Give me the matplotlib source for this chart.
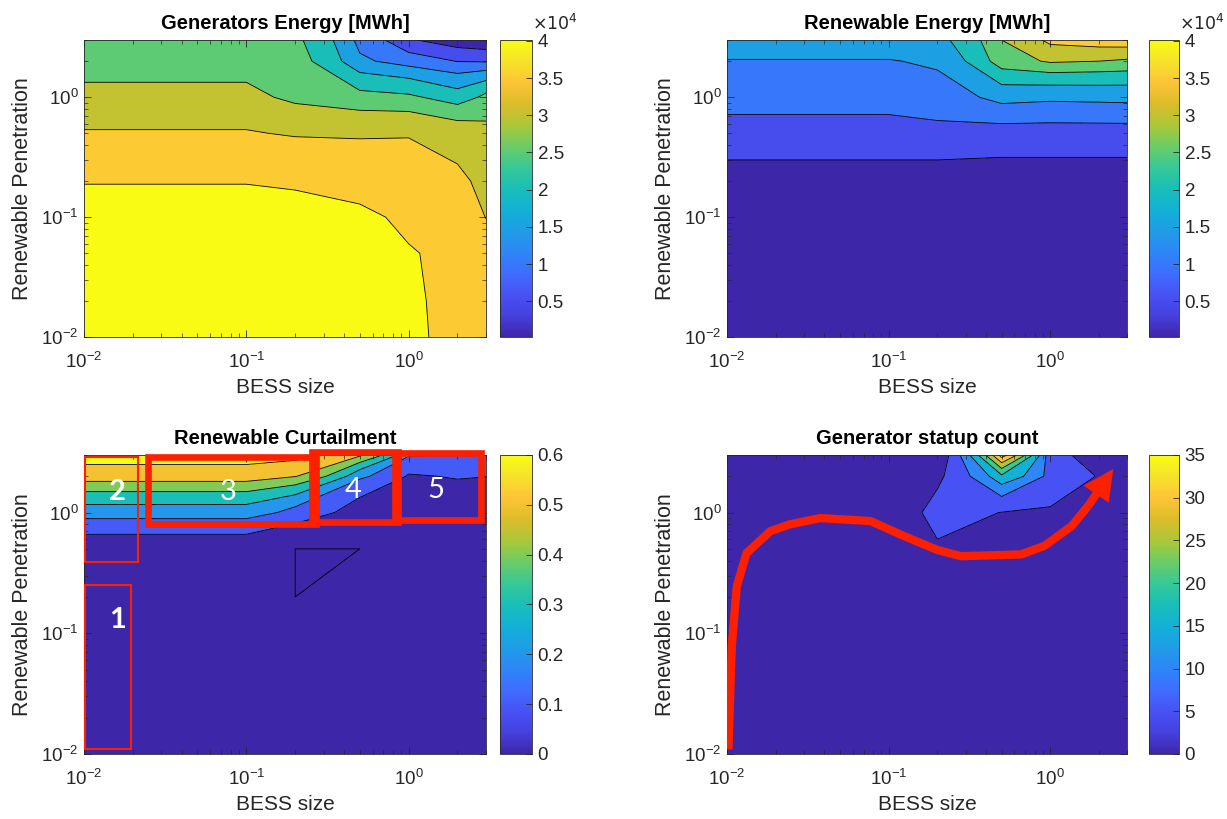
import numpy as np
import matplotlib
matplotlib.use('Agg')
import matplotlib.pyplot as plt
from matplotlib.colors import LinearSegmentedColormap, Normalize
from matplotlib.patches import Rectangle
import matplotlib.cm as cm

plt.rcParams['font.family'] = ['Liberation Sans', 'DejaVu Sans']

# grid of the parameter sweep
bess = [0.01, 0.02, 0.05, 0.1, 0.2, 0.5, 1, 2, 3]
pen = [0.01, 0.02, 0.05, 0.1, 0.2, 0.5, 1, 2, 3]

# rows = renewable penetration, columns = BESS size  (x1e4 MWh)
gen_energy = np.array([
    [4.15, 4.15, 4.15, 4.15, 4.15, 4.15, 4.05, 3.90, 3.80],
    [4.15, 4.15, 4.15, 4.15, 4.15, 4.15, 4.04, 3.90, 3.78],
    [4.15, 4.15, 4.15, 4.15, 4.15, 4.15, 4.025, 3.88, 3.65],
    [4.15, 4.15, 4.15, 4.15, 4.15, 4.08, 3.90, 3.75, 3.49],
    [3.98, 3.98, 3.98, 3.98, 3.93, 3.80, 3.75, 3.57, 3.40],
    [3.53, 3.53, 3.53, 3.53, 3.45, 3.44, 3.46, 3.30, 3.13],
    [3.12, 3.12, 3.12, 3.12, 2.87, 2.65, 2.58, 2.22, 2.64],
    [2.76, 2.76, 2.76, 2.76, 2.70, 1.58, 1.26, 0.98, 0.95],
    [2.60, 2.60, 2.60, 2.60, 2.60, 1.34, 0.55, 0.18, 0.05],
]) * 1e4

ren_energy = np.array([
    [0.05, 0.05, 0.05, 0.05, 0.05, 0.05, 0.05, 0.05, 0.05],
    [0.05, 0.05, 0.05, 0.05, 0.05, 0.05, 0.05, 0.05, 0.05],
    [0.05, 0.05, 0.05, 0.05, 0.05, 0.05, 0.05, 0.05, 0.05],
    [0.10, 0.10, 0.10, 0.10, 0.10, 0.10, 0.10, 0.10, 0.10],
    [0.30, 0.30, 0.30, 0.30, 0.30, 0.30, 0.30, 0.30, 0.30],
    [0.90, 0.90, 0.90, 0.90, 0.90, 0.82, 0.82, 0.82, 0.82],
    [1.13, 1.13, 1.13, 1.13, 1.257, 1.70, 1.62, 1.65, 1.67],
    [1.47, 1.47, 1.47, 1.47, 1.61, 2.80, 3.07, 3.00, 2.93],
    [1.90, 1.90, 1.90, 1.90, 1.85, 3.00, 3.64, 3.80, 3.85],
]) * 1e4

curtail = np.array([
    [0.002, 0.002, 0.002, 0.002, 0.002, 0.002, 0.002, 0.002, 0.002],
    [0.002, 0.002, 0.002, 0.002, 0.002, 0.002, 0.002, 0.002, 0.002],
    [0.002, 0.002, 0.002, 0.002, 0.002, 0.002, 0.002, 0.002, 0.002],
    [0.002, 0.002, 0.002, 0.002, 0.002, 0.002, 0.002, 0.002, 0.002],
    [0.002, 0.002, 0.002, 0.002, 0.0, 0.002, 0.002, 0.002, 0.002],
    [0.03, 0.03, 0.03, 0.03, 0.0, 0.0, 0.005, 0.005, 0.005],
    [0.248, 0.248, 0.248, 0.248, 0.16, 0.04, 0.01, 0.02, 0.02],
    [0.558, 0.558, 0.558, 0.558, 0.505, 0.22, 0.09, 0.11, 0.102],
    [0.642, 0.642, 0.642, 0.642, 0.64, 0.52, 0.21, 0.19, 0.19],
])

startups = np.array([
    [0, 0, 0, 0, 0, 0, 0, 0, 0],
    [0, 0, 0, 0, 0, 0, 0, 0, 0],
    [0, 0, 0, 0, 0, 0, 0, 0, 0],
    [0, 0, 0, 0, 0, 0, 0, 0, 0],
    [0, 0, 0, 0, 0, 0, 0, 0, 0],
    [0, 0, 0, 0, 4.67, 3, 2, 0, 0],
    [0, 0, 0, 3, 6.3, 4.9, 4.6, 2, 1],
    [0, 0, 0, 0, 4, 19.1, 8, 4.67, 2],
    [0, 0, 0, 0, 0.6, 37.6, 6.2, 2.8, 1],
])

energy_levels = [0, 5000, 10000, 15000, 20000, 25000, 30000, 35000, 40000]
curtail_levels = [0, 0.1, 0.2, 0.3, 0.4, 0.5, 0.6]
startup_levels = [0, 5, 10, 15, 20, 25, 30, 35]

# annotation boxes on the curtailment plot: (x0, x1, y0, y1, linewidth)
zone_boxes = [
    (0.0101, 0.0195, 0.011, 0.25, 1.5),
    (0.0101, 0.0215, 0.39, 2.9, 1.5),
    (0.0248, 0.267, 0.80, 2.9, 4.8),
    (0.255, 0.855, 0.84, 3.2, 4.8),
    (0.83, 2.78, 0.87, 3.1, 4.8),
]
zone_labels = ['1', '2', '3', '4', '5']
zone_label_x = [0.016, 0.016, 0.077, 0.457, 1.47]
zone_label_y = [0.13, 1.47, 1.47, 1.55, 1.55]
zone_label_w = ['bold', 'bold', 'normal', 'normal', 'normal']

# hand drawn trajectory on the start-up plot
path_x = [0.0102, 0.0107, 0.0115, 0.0132, 0.0185, 0.0246, 0.0378, 0.0773,
          0.124, 0.200, 0.28, 0.66, 0.92, 1.35, 1.71]
path_y = [0.0109, 0.078, 0.245, 0.46, 0.70, 0.80, 0.90, 0.85,
          0.64, 0.49, 0.435, 0.45, 0.53, 0.77, 1.13]
path_tip = (2.45, 2.3)

parula = LinearSegmentedColormap.from_list('parula', [
    (0.000, (0.2422, 0.1504, 0.6603)),
    (0.071, (0.2720, 0.2537, 0.8770)),
    (0.143, (0.2810, 0.3228, 0.9579)),
    (0.214, (0.2440, 0.4300, 0.9950)),
    (0.286, (0.1786, 0.5289, 0.9682)),
    (0.357, (0.1200, 0.6150, 0.9000)),
    (0.429, (0.0689, 0.6948, 0.8394)),
    (0.500, (0.1000, 0.7450, 0.7200)),
    (0.571, (0.2161, 0.7843, 0.5923)),
    (0.643, (0.4200, 0.8000, 0.4000)),
    (0.714, (0.6720, 0.7793, 0.2227)),
    (0.786, (0.8600, 0.7400, 0.1600)),
    (0.857, (0.9970, 0.7659, 0.2199)),
    (0.929, (0.9600, 0.8900, 0.1600)),
    (1.000, (0.9769, 0.9839, 0.0805)),
])

grey = '#262626'
red = '#fa2000'

fig = plt.figure(figsize=(12.27, 8.19), dpi=100)

panels = [
    dict(z=gen_energy, title='Generators Energy [MWh]', levels=energy_levels,
         clim=(200, 40100), ticks=energy_levels[1:], labels=['0.5', '1', '1.5', '2', '2.5', '3', '3.5', '4'],
         ax=[0.0685, 0.5885, 0.3276, 0.3626], cax=[0.4075, 0.5885, 0.0261, 0.3626], expo=True),
    dict(z=ren_energy, title='Renewable Energy [MWh]', levels=energy_levels,
         clim=(200, 40100), ticks=energy_levels[1:], labels=['0.5', '1', '1.5', '2', '2.5', '3', '3.5', '4'],
         ax=[0.5925, 0.5885, 0.3264, 0.3626], cax=[0.9364, 0.5885, 0.0245, 0.3626], expo=True),
    dict(z=curtail, title='Renewable Curtailment', levels=curtail_levels,
         clim=(0, 0.6), ticks=curtail_levels, labels=['0', '0.1', '0.2', '0.3', '0.4', '0.5', '0.6'],
         ax=[0.0685, 0.0794, 0.3276, 0.3651], cax=[0.4075, 0.0794, 0.0261, 0.3651], expo=False),
    dict(z=startups, title='Generator statup count', levels=startup_levels,
         clim=(0, 35), ticks=startup_levels, labels=[str(v) for v in startup_levels],
         ax=[0.5925, 0.0794, 0.3264, 0.3651], cax=[0.9364, 0.0794, 0.0245, 0.3651], expo=False),
]

axes = []
for p in panels:
    ax = fig.add_axes(p['ax'])
    vmin, vmax = p['clim']
    lev = list(p['levels'])
    fill_lev = lev + [lev[-1] * 1000]
    cols = [parula(np.clip((v - vmin) / (vmax - vmin), 0, 1)) for v in lev]
    ax.contourf(bess, pen, p['z'], levels=fill_lev, colors=cols)
    line_lev = lev if p['z'] is curtail else lev[1:]
    ax.contour(bess, pen, p['z'], levels=line_lev, colors='k', linewidths=0.6)
    ax.set_xscale('log')
    ax.set_yscale('log')
    ax.set_xlim(0.01, 3)
    ax.set_ylim(0.01, 3)
    ax.set_title(p['title'], fontsize=14.5, fontweight='bold', color='k', pad=8)
    ax.set_xlabel('BESS size', fontsize=15, color=grey, labelpad=4)
    ax.set_ylabel('Renewable Penetration', fontsize=15.5, color=grey, labelpad=6)
    ax.tick_params(which='both', direction='in', top=True, right=True, colors=grey, labelsize=13.5)
    ax.tick_params(which='major', length=5, width=0.6)
    ax.tick_params(axis='x', which='major', pad=11)
    ax.tick_params(axis='y', which='major', pad=4)
    ax.tick_params(which='minor', length=3, width=0.5)
    for s in ax.spines.values():
        s.set_color(grey)
        s.set_linewidth(0.6)

    cax = fig.add_axes(p['cax'])
    sm = cm.ScalarMappable(norm=Normalize(vmin, vmax), cmap=parula)
    cb = fig.colorbar(sm, cax=cax)
    cb.set_ticks(p['ticks'])
    cb.set_ticklabels(p['labels'])
    cb.outline.set_edgecolor(grey)
    cb.outline.set_linewidth(0.6)
    cax.tick_params(direction='in', colors=grey, labelsize=13.5, length=4, width=0.6, pad=4)
    if p['expo']:
        cax.text(1.0, 1.025, r'$\times10^{4}$', transform=cax.transAxes, fontsize=12.5,
                 color=grey, ha='left', va='bottom')
    axes.append(ax)

# zones on the curtailment panel
ax3 = axes[2]
for (x0, x1, y0, y1, lw) in zone_boxes:
    ax3.add_patch(Rectangle((x0, y0), x1 - x0, y1 - y0, fill=False, edgecolor=red,
                            linewidth=lw, clip_on=False, zorder=5))
for t, x, y, w in zip(zone_labels, zone_label_x, zone_label_y, zone_label_w):
    ax3.text(x, y, t, color='white', fontsize=21, fontweight=w, family=['Lato', 'DejaVu Sans'],
             ha='center', va='center', zorder=6)

# trajectory on the start-up panel
ax4 = axes[3]
ax4.plot(path_x, path_y, color=red, linewidth=6, solid_capstyle='butt', zorder=5)
ax4.annotate('', xy=path_tip, xytext=(path_x[-1], path_y[-1]),
             arrowprops=dict(arrowstyle='simple,head_length=1.0,head_width=1.0,tail_width=0.27',
                             mutation_scale=22, fc=red, ec='none', shrinkA=0, shrinkB=0),
             zorder=5)

fig.savefig('out.png', dpi=100)
